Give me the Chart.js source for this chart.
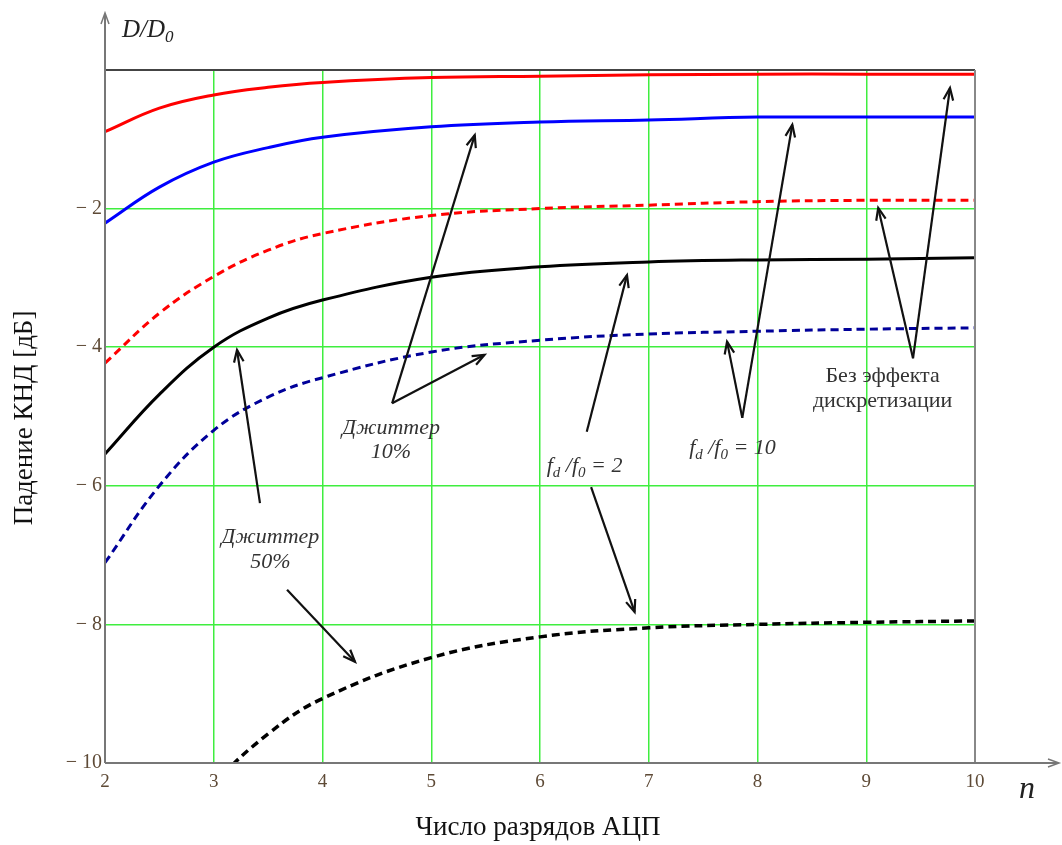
<!DOCTYPE html>
<html>
<head>
<meta charset="utf-8">
<script src="https://cdn.jsdelivr.net/npm/chart.js@4.4.0/dist/chart.umd.min.js"></script>
<style>
  html, body { margin: 0; padding: 0; background: #fff; }
  #wrap { width: 1062px; height: 845px; }
</style>
</head>
<body>
<div id="wrap"><canvas id="myChart" width="1062" height="845"></canvas></div>
<script>
// число разрядов АЦП
var bits = [2, 2.5, 3, 3.5, 4, 5, 6, 7, 8, 9, 10];
// кривые падения КНД, дБ
var noSampling10 = [-0.89, -0.55, -0.36, -0.25, -0.18, -0.11, -0.09, -0.07, -0.06, -0.06, -0.06];
var fd10Jitter10 = [-2.21, -1.69, -1.33, -1.12, -0.97, -0.82, -0.75, -0.72, -0.68, -0.68, -0.68];
var fd2Jitter10 = [-4.23, -3.51, -2.98, -2.60, -2.36, -2.10, -2.00, -1.95, -1.90, -1.88, -1.88];
var noSampling50 = [-5.54, -4.68, -4.00, -3.58, -3.32, -2.99, -2.84, -2.77, -2.74, -2.73, -2.71];
var fd10Jitter50 = [-7.11, -6.00, -5.20, -4.72, -4.44, -4.07, -3.90, -3.81, -3.77, -3.74, -3.72];
var fd2Jitter50 = [-12.6, -11.2, -10.3, -9.58, -9.07, -8.48, -8.18, -8.05, -8.00, -7.97, -7.95];
var yTicks = [-10, -8, -6, -4, -2, 0];

// подписи и стрелки (в координатах данных)
var labels = [
    { lines: ['Джиттер', '50%'], x: 3.52, y: [-6.74, -7.10], italic: true },
    { lines: ['Джиттер', '10%'], x: 4.63, y: [-5.17, -5.52], italic: true },
    { lines: ['Без эффекта', 'дискретизации'], x: 9.15, y: [-4.42, -4.78], italic: false }
];
var fracLabels = [
    { ratio: '2', x: 6.41, y: -5.72 },
    { ratio: '10', x: 7.77, y: -5.46 }
];
var arrows = [
    [3.425, -6.25, 3.214, -4.04],
    [3.674, -7.50, 4.299, -8.54],
    [4.64, -4.81, 5.40, -0.94],
    [4.64, -4.81, 5.49, -4.11],
    [6.43, -5.22, 6.80, -2.96],
    [6.47, -6.02, 6.87, -7.82],
    [7.86, -5.02, 7.72, -3.92],
    [7.86, -5.02, 8.32, -0.79],
    [9.43, -4.16, 9.11, -1.99],
    [9.43, -4.16, 9.77, -0.26]
];

function pts(ys) {
    return bits.map(function(b, i) { return { x: b, y: ys[i] }; });
}

function series(ys, color, dashed, width) {
    return {
        data: pts(ys),
        borderColor: color,
        borderWidth: width || 3,
        borderDash: dashed ? [8, 5] : [],
        pointRadius: 0,
        tension: 0.4,
        fill: false
    };
}

var serif = '"Liberation Serif", "DejaVu Serif", serif';

function arrowHead(ctx, x1, y1, x2, y2) {
    var a = Math.atan2(y2 - y1, x2 - x1);
    var len = 13, sp = 0.38;
    ctx.beginPath();
    ctx.moveTo(x2 - len * Math.cos(a - sp), y2 - len * Math.sin(a - sp));
    ctx.lineTo(x2, y2);
    ctx.lineTo(x2 - len * Math.cos(a + sp), y2 - len * Math.sin(a + sp));
    ctx.stroke();
}

var extras = {
    id: 'extras',
    afterDatasetsDraw: function(chart) {
        var ctx = chart.ctx, xs = chart.scales.x, ys = chart.scales.y;
        var a = chart.chartArea;
        ctx.save();

        // рамка и оси
        ctx.lineWidth = 2;
        ctx.strokeStyle = '#444';
        ctx.beginPath();
        ctx.moveTo(a.left, a.top); ctx.lineTo(a.right, a.top);
        ctx.stroke();
        ctx.strokeStyle = '#888';
        ctx.beginPath();
        ctx.moveTo(a.right, a.top); ctx.lineTo(a.right, a.bottom);
        ctx.stroke();
        ctx.strokeStyle = '#777';
        ctx.beginPath();
        ctx.moveTo(a.left, a.bottom); ctx.lineTo(a.left, 14);
        ctx.moveTo(a.left, a.bottom); ctx.lineTo(1058, a.bottom);
        ctx.stroke();
        ctx.lineWidth = 1.5;
        ctx.beginPath();
        ctx.moveTo(a.left - 4, 24); ctx.lineTo(a.left, 13); ctx.lineTo(a.left + 4, 24);
        ctx.moveTo(1048, a.bottom - 4); ctx.lineTo(1059, a.bottom); ctx.lineTo(1048, a.bottom + 4);
        ctx.stroke();

        // стрелки-указатели
        ctx.strokeStyle = '#111';
        ctx.lineWidth = 2.2;
        arrows.forEach(function(r) {
            var x1 = xs.getPixelForValue(r[0]), y1 = ys.getPixelForValue(r[1]);
            var x2 = xs.getPixelForValue(r[2]), y2 = ys.getPixelForValue(r[3]);
            ctx.beginPath();
            ctx.moveTo(x1, y1); ctx.lineTo(x2, y2);
            ctx.stroke();
            arrowHead(ctx, x1, y1, x2, y2);
        });

        // подписи
        ctx.fillStyle = '#333';
        ctx.textAlign = 'center';
        ctx.textBaseline = 'middle';
        labels.forEach(function(l) {
            ctx.font = (l.italic ? 'italic ' : '') + '22px ' + serif;
            l.lines.forEach(function(t, i) {
                ctx.fillText(t, xs.getPixelForValue(l.x), ys.getPixelForValue(l.y[i]));
            });
        });

        fracLabels.forEach(function(f) {
            var runs = [
                ['f', 22, 0], ['d', 15, 7], [' /f', 22, 0], ['0', 15, 7], [' = ' + f.ratio, 22, 0]
            ];
            var total = 0;
            runs.forEach(function(r) {
                ctx.font = 'italic ' + r[1] + 'px ' + serif;
                total += ctx.measureText(r[0]).width;
            });
            var cx = xs.getPixelForValue(f.x) - total / 2;
            var cy = ys.getPixelForValue(f.y);
            ctx.textAlign = 'left';
            runs.forEach(function(r) {
                ctx.font = 'italic ' + r[1] + 'px ' + serif;
                ctx.fillText(r[0], cx, cy + r[2]);
                cx += ctx.measureText(r[0]).width;
            });
            ctx.textAlign = 'center';
        });

        // D/D0 и n
        ctx.fillStyle = '#222';
        ctx.textAlign = 'left';
        ctx.font = 'italic 25px ' + serif;
        ctx.fillText('D/D', 122, 30);
        var w = ctx.measureText('D/D').width;
        ctx.font = 'italic 17px ' + serif;
        ctx.fillText('0', 122 + w, 38);
        ctx.font = 'italic 32px ' + serif;
        ctx.fillText('n', 1019, 790);

        // названия осей
        ctx.fillStyle = '#111';
        ctx.font = '27px ' + serif;
        ctx.textAlign = 'center';
        ctx.fillText('Число разрядов АЦП', 538, 828);
        ctx.translate(25, 418);
        ctx.rotate(-Math.PI / 2);
        ctx.fillText('Падение КНД [дБ]', 0, 0);
        ctx.restore();
    }
};

document.addEventListener('DOMContentLoaded', function() {
    var ctx = document.getElementById('myChart').getContext('2d');
    var gridGreen = '#3fee3f';
    var myChart = new Chart(ctx, {
        type: 'line',
        data: {
            datasets: [
                series(noSampling10, '#ff0000', false),
                series(fd10Jitter10, '#0000ff', false),
                series(fd2Jitter10, '#ff0000', true),
                series(noSampling50, '#000000', false),
                series(fd10Jitter50, '#000099', true),
                series(fd2Jitter50, '#000000', true, 3.5)
            ]
        },
        options: {
            responsive: false,
            animation: false,
            layout: { padding: { left: 62, right: 87, top: 70, bottom: 50 } },
            plugins: { legend: { display: false }, tooltip: { enabled: false } },
            scales: {
                x: {
                    type: 'linear',
                    min: 2, max: 10,
                    afterFit: function(s) { s.height = 32; },
                    border: { display: false },
                    grid: {
                        drawTicks: false,
                        lineWidth: 1.5,
                        color: function(c) {
                            return (c.tick && (c.tick.value === 2 || c.tick.value === 10)) ? 'rgba(0,0,0,0)' : gridGreen;
                        }
                    },
                    ticks: {
                        stepSize: 1,
                        padding: 8,
                        color: '#5e4a36',
                        font: { family: serif, size: 19 }
                    }
                },
                y: {
                    type: 'linear',
                    min: -10, max: 0,
                    afterFit: function(s) { s.width = 43; },
                    afterBuildTicks: function(s) {
                        s.ticks = yTicks.map(function(v) { return { value: v }; });
                    },
                    border: { display: false },
                    grid: {
                        drawTicks: false,
                        lineWidth: 1.5,
                        color: function(c) {
                            return (c.tick && (c.tick.value === -10 || c.tick.value === 0)) ? 'rgba(0,0,0,0)' : gridGreen;
                        }
                    },
                    ticks: {
                        padding: 3,
                        color: '#5e4a36',
                        font: { family: serif, size: 20 },
                        callback: function(v) { return v === 0 ? '' : '\u2212 ' + Math.abs(v); }
                    }
                }
            }
        },
        plugins: [extras]
    });
});
</script>
</body>
</html>
